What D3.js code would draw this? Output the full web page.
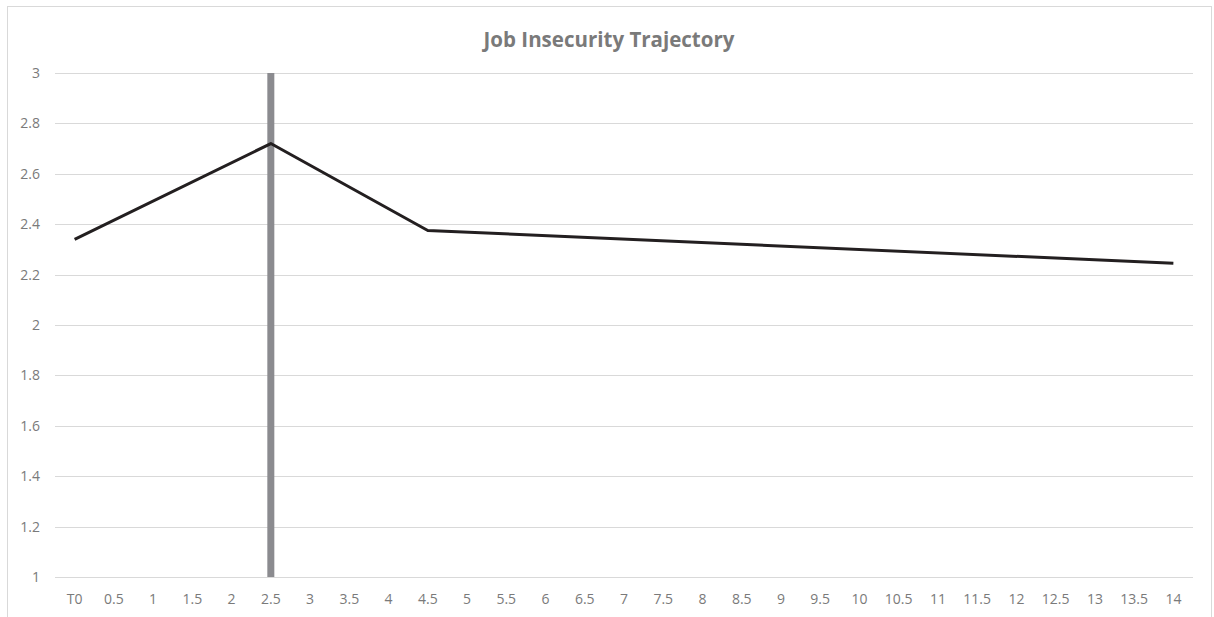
<!DOCTYPE html>
<html>
<head>
<meta charset="utf-8">
<script src="https://cdn.jsdelivr.net/npm/d3@7"></script>
<style>
  html, body { margin: 0; padding: 0; background: #fff; }
  svg { display: block; }
</style>
</head>
<body>
<svg id="chart" width="1214" height="617"></svg>
<script>
// Time points (category axis)
const categories = ["T0","0.5","1","1.5","2","2.5","3","3.5","4","4.5","5","5.5","6","6.5","7","7.5","8","8.5","9","9.5","10","10.5","11","11.5","12","12.5","13","13.5","14"];
// Measured job insecurity at the observed time points
const trajectoryPoints = ["T0","2.5","4.5","14"];
const trajectoryValues = [2.34, 2.72, 2.375, 2.245];
// Marker bar at the event time point
const markerCategory = ["2.5"];
const markerValue = [3];
// Value axis ticks
const yTicks = [1, 1.2, 1.4, 1.6, 1.8, 2, 2.2, 2.4, 2.6, 2.8, 3];

const svg = d3.select("#chart");
const plot = { left: 55, right: 1193, top: 73, bottom: 577 };
const font = "'Open Sans', sans-serif";
const textColor = "#7a7a7a";

// Chart frame
svg.append("rect")
  .attr("x", 7.5).attr("y", 6.5)
  .attr("width", 1204).attr("height", 640)
  .attr("fill", "#fff").attr("stroke", "#d9d9d9").attr("stroke-width", 1);

const x = d3.scaleBand().domain(categories).range([plot.left, plot.right]).paddingInner(0).paddingOuter(0);
const y = d3.scaleLinear().domain([1, 3]).range([plot.bottom, plot.top]);

// Gridlines
svg.append("g")
  .selectAll("line")
  .data(yTicks)
  .join("line")
  .attr("x1", plot.left).attr("x2", plot.right)
  .attr("y1", d => Math.round(y(d)) + 0.5).attr("y2", d => Math.round(y(d)) + 0.5)
  .attr("stroke", "#d9d9d9").attr("stroke-width", 1);

// Y axis labels
const yAxis = d3.axisLeft(y).tickValues(yTicks).tickSize(0).tickPadding(0).tickFormat(d3.format("~g"));
const gy = svg.append("g").attr("transform", `translate(${plot.left - 15},0)`).call(yAxis);
gy.select(".domain").remove();
gy.selectAll("text").attr("fill", textColor).style("font-family", font).style("font-size", "14px");

// X axis labels
const xAxis = d3.axisBottom(x).tickSize(0).tickPadding(0);
const gx = svg.append("g").attr("transform", `translate(0,${plot.bottom + 17})`).call(xAxis);
gx.select(".domain").remove();
gx.selectAll("text").attr("fill", textColor).style("font-family", font).style("font-size", "14px");

// Marker bar
svg.append("g")
  .selectAll("rect")
  .data(markerCategory.map((c, i) => ({ c, v: markerValue[i] })))
  .join("rect")
  .attr("x", d => x(d.c) + x.bandwidth() / 2 - 3.5)
  .attr("width", 7)
  .attr("y", d => y(d.v))
  .attr("height", d => y(1) - y(d.v))
  .attr("fill", "#8b8b8f");

// Trajectory line
const pts = trajectoryPoints.map((c, i) => [x(c) + x.bandwidth() / 2, y(trajectoryValues[i])]);
svg.append("path")
  .attr("d", d3.line()(pts))
  .attr("fill", "none")
  .attr("stroke", "#231f20")
  .attr("stroke-width", 3)
  .attr("stroke-linejoin", "round");

// Title
svg.append("text")
  .attr("x", 609).attr("y", 47)
  .attr("text-anchor", "middle")
  .attr("fill", textColor)
  .style("font-family", font)
  .style("font-size", "20.5px")
  .style("font-weight", "bold")
  .text("Job Insecurity Trajectory");
</script>
</body>
</html>
